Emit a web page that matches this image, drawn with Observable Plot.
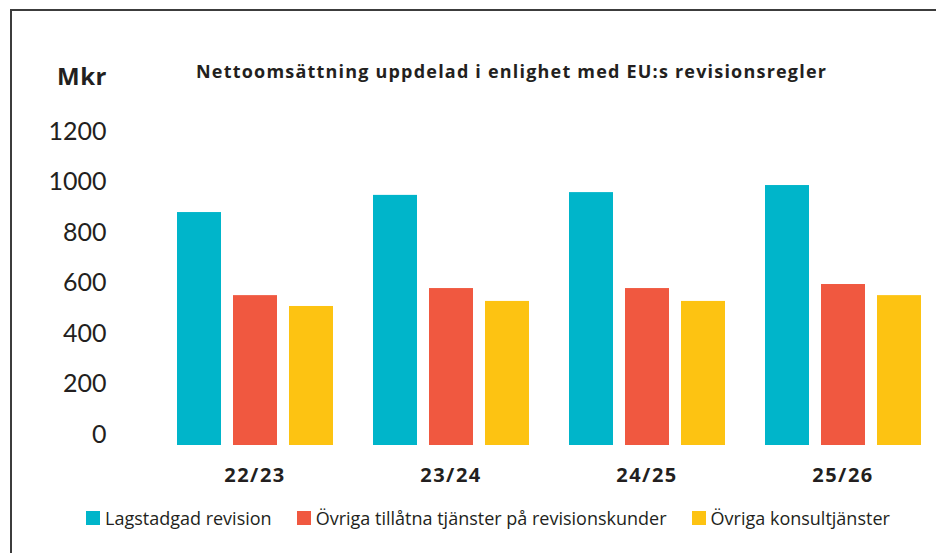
<!DOCTYPE html>
<html><head><meta charset="utf-8">
<script src="https://cdn.jsdelivr.net/npm/d3@7"></script>
<script src="https://cdn.jsdelivr.net/npm/@observablehq/plot@0.6"></script>
<style>
body{margin:0;background:#fff;}
#wrap{position:relative;width:936px;height:553px;overflow:hidden;font-family:"Open Sans","Noto Sans",sans-serif;color:#231f20;background:#fff;}
#frame{position:absolute;left:10px;top:9px;width:1000px;height:1000px;border-left:2px solid #3c3c3c;border-top:2px solid #3c3c3c;}
#mkr{position:absolute;left:57px;top:61px;font-weight:700;font-size:24px;line-height:30px;letter-spacing:0.5px;}
#title{position:absolute;left:196px;top:60px;font-weight:700;font-size:18px;line-height:22px;white-space:nowrap;letter-spacing:1.2px;}
#chart{position:absolute;left:0;top:100px;}
#legend{position:absolute;top:507px;left:86px;display:flex;align-items:center;font-size:18px;line-height:22px;white-space:nowrap;}
.item{display:flex;align-items:center;margin-right:25px;}
.sw{width:14px;height:14px;margin-right:5px;}
</style></head>
<body><div id="wrap">
<div id="frame"></div>
<div id="mkr">Mkr</div>
<div id="title">Nettoomsättning uppdelad i enlighet med EU:s revisionsregler</div>
<div id="chart"></div>
<div id="legend"></div>
</div>
<script>
const years = ["22/23", "23/24", "24/25", "25/26"];
const series = ["Lagstadgad revision", "Övriga tillåtna tjänster på revisionskunder", "Övriga konsultjänster"];
const colors = ["#00b5ca", "#f05840", "#fdc312"];
const lagstadgad = [879, 947, 958, 986];
const ovrigaTillatna = [550, 578, 578, 594];
const konsult = [507, 527, 527, 550];
const yTicks = [0, 200, 400, 600, 800, 1000, 1200];

const valuesBySeries = [lagstadgad, ovrigaTillatna, konsult];
const data = [];
years.forEach((yr, i) => series.forEach((s, j) => data.push({year: yr, series: s, value: valuesBySeries[j][i]})));

const plot = Plot.plot({
  width: 936,
  height: 400,
  marginLeft: 176,
  marginRight: 15,
  marginTop: 31,
  marginBottom: 66,
  style: {fontFamily: "'Open Sans', 'Noto Sans', sans-serif", color: "#231f20", background: "transparent", overflow: "visible"},
  fx: {domain: years, paddingInner: 0.2, paddingOuter: 0, label: null},
  x: {domain: series, paddingInner: 0.22, paddingOuter: 0, axis: null},
  y: {domain: [0, 1200], label: null},
  color: {domain: series, range: colors},
  marks: [
    Plot.barY(data, {fx: "year", x: "series", y: "value", fill: "series", insetBottom: -11}),
    Plot.axisY({ticks: yTicks, tickSize: 0, tickPadding: 70, fontSize: 25, label: null, fill: "#231f20", fontFamily: "Lato, sans-serif", tickFormat: d => String(d)}),
    Plot.axisFx({anchor: "bottom", tickSize: 0, tickPadding: 33, fontSize: 20, fontWeight: "bold", label: null, fill: "#231f20", style: "letter-spacing:1.5px"})
  ]
});
document.getElementById("chart").appendChild(plot);
plot.querySelectorAll("[aria-label='fx-axis tick label'] text").forEach(t => t.setAttribute("letter-spacing", "1.5"));

const legend = document.getElementById("legend");
series.forEach((s, i) => {
  const it = document.createElement("div"); it.className = "item";
  const sw = document.createElement("div"); sw.className = "sw"; sw.style.background = colors[i];
  const tx = document.createElement("span"); tx.textContent = s;
  it.appendChild(sw); it.appendChild(tx); legend.appendChild(it);
});
</script>
</body></html>
